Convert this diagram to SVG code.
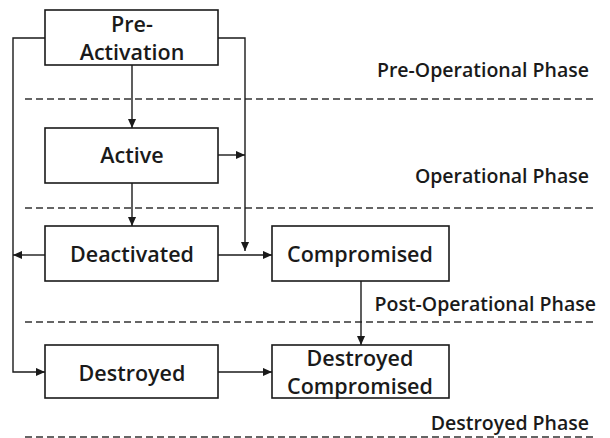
<svg xmlns="http://www.w3.org/2000/svg" width="610" height="438" viewBox="0 0 610 438">
<style>
.box{fill:#fff;stroke:#1a1a1a;stroke-width:1.6}
.t{font-family:"Open Sans","Noto Sans",sans-serif;font-weight:600;font-size:21.5px;fill:#1a1a1a;text-anchor:middle}
.ph{font-family:"Open Sans","Noto Sans",sans-serif;font-weight:600;font-size:19.5px;fill:#1a1a1a;text-anchor:end}
.c{fill:none;stroke:#1a1a1a;stroke-width:1.4}
.d{fill:none;stroke:#333;stroke-width:1.4;stroke-dasharray:7 4}
</style>
<defs>
<marker id="a" viewBox="0 0 10 10" refX="10" refY="5" markerWidth="9" markerHeight="9" markerUnits="userSpaceOnUse" orient="auto">
<path d="M0,0.5 L10,5 L0,9.5 z" fill="#1a1a1a"/>
</marker>
</defs>
<g id="phases">
<line class="d" x1="25" y1="99" x2="593" y2="99"/>
<line class="d" x1="25" y1="208" x2="593" y2="208"/>
<line class="d" x1="25" y1="322" x2="593" y2="322"/>
<line class="d" x1="25" y1="437" x2="593" y2="437"/>
<text class="ph" x="589" y="77">Pre-Operational Phase</text>
<text class="ph" x="589" y="183">Operational Phase</text>
<text class="ph" x="596" y="311">Post-Operational Phase</text>
<text class="ph" x="589" y="430">Destroyed Phase</text>
</g>
<g id="connectors">
<line class="c" x1="132" y1="65" x2="132" y2="128" marker-end="url(#a)"/>
<line class="c" x1="132" y1="183" x2="132" y2="226" marker-end="url(#a)"/>
<polyline class="c" points="45,38 13,38 13,372 45,372" marker-end="url(#a)"/>
<line class="c" x1="45" y1="255" x2="13" y2="255" marker-end="url(#a)"/>
<polyline class="c" points="218,38 245,38 245,251" marker-end="url(#a)"/>
<line class="c" x1="218" y1="155" x2="245" y2="155" marker-end="url(#a)"/>
<line class="c" x1="218" y1="255" x2="272" y2="255" marker-end="url(#a)"/>
<line class="c" x1="361" y1="281" x2="361" y2="345" marker-end="url(#a)"/>
<line class="c" x1="218" y1="372" x2="272" y2="372" marker-end="url(#a)"/>
</g>
<g id="pre-activation">
<rect class="box" x="45" y="10" width="173" height="55"/>
<text class="t" x="132" y="32">Pre-</text>
<text class="t" x="132" y="60">Activation</text>
</g>
<g id="active">
<rect class="box" x="45" y="128" width="173" height="55"/>
<text class="t" x="132" y="163">Active</text>
</g>
<g id="deactivated">
<rect class="box" x="45" y="226" width="173" height="55"/>
<text class="t" x="132" y="262">Deactivated</text>
</g>
<g id="compromised">
<rect class="box" x="272" y="226" width="177" height="55"/>
<text class="t" x="360" y="262">Compromised</text>
</g>
<g id="destroyed">
<rect class="box" x="45" y="345" width="173" height="53"/>
<text class="t" x="132" y="381">Destroyed</text>
</g>
<g id="destroyed-compromised">
<rect class="box" x="272" y="345" width="177" height="53"/>
<text class="t" x="360" y="366">Destroyed</text>
<text class="t" x="360" y="394">Compromised</text>
</g>
</svg>
